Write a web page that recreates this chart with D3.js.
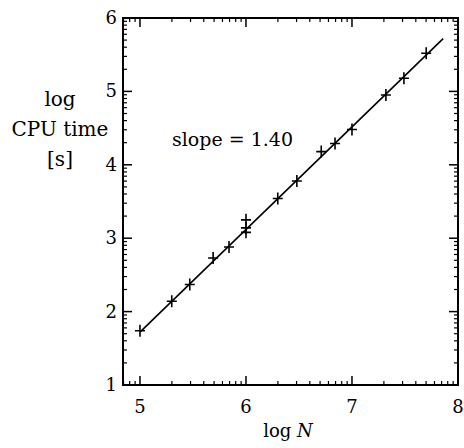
<!DOCTYPE html>
<html>
<head>
<meta charset="utf-8">
<script src="https://cdn.jsdelivr.net/npm/d3@7"></script>
<style>
  body { margin: 0; background: #fff; }
</style>
</head>
<body>
<div id="chart"></div>
<script>
// measured points: log N vs log CPU time
var logN   = [5.00, 5.30, 5.47, 5.69, 5.84, 6.00, 6.00, 6.00, 6.30, 6.48, 6.71, 6.84, 7.00, 7.32, 7.49, 7.70];
var logCPU = [1.74, 2.14, 2.37, 2.73, 2.88, 3.25, 3.14, 3.08, 3.54, 3.78, 4.18, 4.29, 4.48, 4.95, 5.18, 5.52];

// fitted line end points
var fitX = [5.00, 7.86];
var fitY = [1.72, 5.72];

var xTicks = [5, 6, 7, 8];
var yTicks = [1, 2, 3, 4, 5, 6];
var slopeLabel = "slope = 1.40";

function init(){
    var w = 464;
    var h = 448;
    var left = 123, right = 458, top = 18, bottom = 385;
    var font = "'DejaVu Serif', 'Liberation Serif', serif";

    var svg = d3.select("#chart")
                .append("svg")
                .attr("width", w)
                .attr("height", h)
                .attr("font-family", font);

    var x = d3.scaleLinear().domain([4.84, 8]).range([left, right]);
    var y = d3.scaleLinear().domain([1, 6]).range([bottom, top]);

    // log-spaced minor ticks inside each unit
    function minors(lo, hi){
        var out = [];
        for (var d = Math.floor(lo) - 1; d <= hi; d++){
            for (var k = 2; k <= 9; k++){
                var v = d + Math.log10(k);
                if (v > lo && v < hi) out.push(v);
            }
        }
        return out;
    }
    var xMinor = minors(4.84, 8);
    var yMinor = minors(1, 6);

    var g = svg.append("g");

    // ticks, all sides, pointing inward
    function vTicks(vals, len, sw){
        vals.forEach(function(v){
            g.append("line").attr("x1", x(v)).attr("x2", x(v))
             .attr("y1", bottom).attr("y2", bottom - len)
             .attr("stroke", "#000").attr("stroke-width", sw);
            g.append("line").attr("x1", x(v)).attr("x2", x(v))
             .attr("y1", top).attr("y2", top + len)
             .attr("stroke", "#000").attr("stroke-width", sw);
        });
    }
    function hTicks(vals, len, sw){
        vals.forEach(function(v){
            g.append("line").attr("y1", y(v)).attr("y2", y(v))
             .attr("x1", left).attr("x2", left + len)
             .attr("stroke", "#000").attr("stroke-width", sw);
            g.append("line").attr("y1", y(v)).attr("y2", y(v))
             .attr("x1", right).attr("x2", right - len)
             .attr("stroke", "#000").attr("stroke-width", sw);
        });
    }
    vTicks(xMinor, 4, 1.2);
    vTicks(xTicks, 9, 1.5);
    hTicks(yMinor, 4, 1.2);
    hTicks(yTicks, 9, 1.5);

    // frame
    g.append("rect")
     .attr("x", left).attr("y", top)
     .attr("width", right - left).attr("height", bottom - top)
     .attr("fill", "none").attr("stroke", "#000").attr("stroke-width", 2);

    // tick labels
    svg.selectAll("text.xt")
       .data(xTicks).enter().append("text")
       .attr("class", "xt")
       .attr("x", function(d){ return x(d); })
       .attr("y", 413)
       .attr("text-anchor", "middle")
       .style("font-size", "18px")
       .text(function(d){ return d; });

    svg.selectAll("text.yt")
       .data(yTicks).enter().append("text")
       .attr("class", "yt")
       .attr("x", 117)
       .attr("y", function(d){ return y(d) + 6; })
       .attr("text-anchor", "end")
       .style("font-size", "18px")
       .text(function(d){ return d; });

    // axis titles
    var xt = svg.append("text")
       .attr("x", 288).attr("y", 437)
       .attr("text-anchor", "middle")
       .style("font-size", "18px");
    xt.append("tspan").text("log ");
    xt.append("tspan").style("font-style", "italic").text("N");

    var yl = ["log", "CPU time", "[s]"];
    svg.selectAll("text.yl")
       .data(yl).enter().append("text")
       .attr("class", "yl")
       .attr("x", 60)
       .attr("y", function(d, i){ return 106 + i * 30; })
       .attr("text-anchor", "middle")
       .style("font-size", "20px")
       .text(function(d){ return d; });

    svg.append("text")
       .attr("x", 172).attr("y", 146)
       .style("font-size", "19px")
       .text(slopeLabel);

    // fitted line
    var line = d3.line()
                 .x(function(d){ return x(d[0]); })
                 .y(function(d){ return y(d[1]); });
    svg.append("path")
       .datum(d3.zip(fitX, fitY))
       .attr("d", line)
       .attr("fill", "none")
       .attr("stroke", "#000")
       .attr("stroke-width", 1.6);

    // + markers
    var pts = d3.zip(logN, logCPU);
    var s = 5;
    svg.selectAll("path.pt")
       .data(pts).enter().append("path")
       .attr("class", "pt")
       .attr("d", function(d){
           var px = x(d[0]), py = y(d[1]);
           return "M" + (px - s) + "," + py + "H" + (px + s) +
                  "M" + px + "," + (py - s - 1) + "V" + (py + s + 1);
       })
       .attr("stroke", "#000")
       .attr("stroke-width", 1.6)
       .attr("fill", "none");
}

window.onload = init;
</script>
</body>
</html>
